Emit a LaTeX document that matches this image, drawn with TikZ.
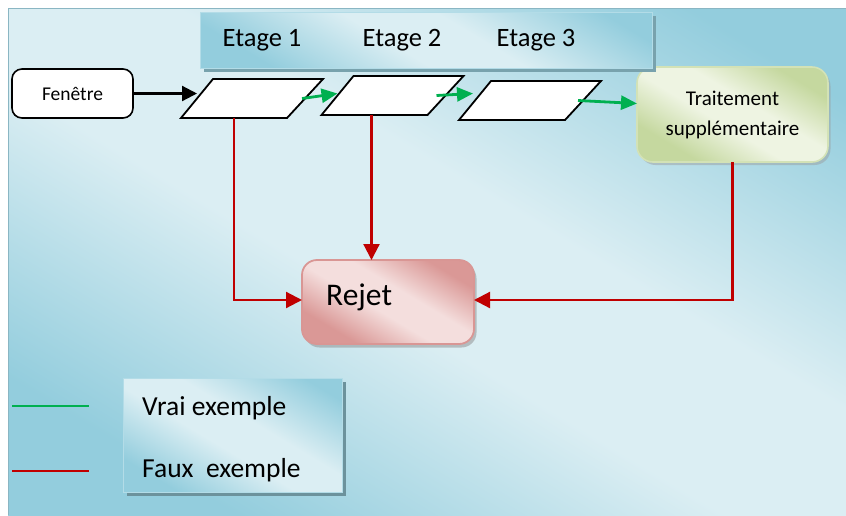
\documentclass[tikz,border=0pt]{standalone}
\usepackage{fontspec}
\setmainfont{Carlito}
\usetikzlibrary{arrows.meta,shadows,calc}

\definecolor{bgdark}{HTML}{93CDDD}
\definecolor{bglight}{HTML}{DBEEF3}
\definecolor{grdark}{HTML}{C5D89F}
\definecolor{grlight}{HTML}{EEF4E2}
\definecolor{grline}{HTML}{D3E2B6}
\definecolor{pkdark}{HTML}{DA9896}
\definecolor{pklight}{HTML}{F4DEDD}
\definecolor{pkline}{HTML}{D99694}
\definecolor{okgreen}{HTML}{00B050}
\definecolor{kored}{HTML}{C00000}
\definecolor{tealshadow}{HTML}{78A2AD}

% diagonal fills: a light band between two darker corners
\pgfdeclareverticalshading{bgshade}{100bp}{color(0bp)=(bgdark); color(25bp)=(bgdark);
  color(45bp)=(bglight); color(57bp)=(bglight); color(78bp)=(bgdark); color(100bp)=(bgdark)}
\pgfdeclareverticalshading{grshade}{100bp}{color(0bp)=(grdark); color(28bp)=(grdark);
  color(45bp)=(grlight); color(57bp)=(grlight); color(74bp)=(grdark); color(100bp)=(grdark)}
\pgfdeclareverticalshading{pkshade}{100bp}{color(0bp)=(pkdark); color(28bp)=(pkdark);
  color(45bp)=(pklight); color(57bp)=(pklight); color(74bp)=(pkdark); color(100bp)=(pkdark)}

\tikzset{
  diag/.style={shade, shading=#1, shading angle=-31},
  box/.style={inner sep=0pt, outer sep=0pt},
  blueband/.style={box, diag=bgshade, draw=bgdark!70, line width=0.6pt,
    drop shadow={shadow xshift=3.5pt, shadow yshift=-4pt, fill=tealshadow, opacity=1}},
  startbox/.style={box, draw=black, fill=white, line width=1.6pt, rounded corners=10pt,
    font=\fontsize{19.5}{22}\selectfont},
  stageshape/.style={draw=black, fill=white, line width=1.8pt, line join=miter},
  greenbox/.style={box, diag=grshade, draw=grline, line width=1.6pt,
    rounded corners=16pt, align=center, font=\fontsize{21}{30}\selectfont,
    drop shadow={shadow xshift=2.5pt, shadow yshift=-3pt, fill=black!40, opacity=.45}},
  pinkbox/.style={box, diag=pkshade, draw=pkline, line width=1.8pt,
    rounded corners=15pt,
    drop shadow={shadow xshift=2.5pt, shadow yshift=-3.5pt, fill=black!45, opacity=.5}},
  label/.style={inner sep=0pt, font=\fontsize{26.5}{30}\selectfont},
  blkarrow/.style={draw=black, line width=2.2pt, -{Triangle[length=15pt,width=15pt]}},
  grnarrow/.style={draw=okgreen, line width=2.8pt, -{Triangle[length=16pt,width=14pt]}},
  redarrow/.style={draw=kored, line width=2.2pt, -{Triangle[length=16pt,width=16pt]}},
  grnline/.style={draw=okgreen, line width=2pt},
  redline/.style={draw=kored, line width=2pt},
}

% a slanted stage window centred on (#2,#3), with named side points
\newcommand\stagewindow[3]{%
  \coordinate (#1) at (#2,#3);
  \coordinate (#1-bl) at ($(#1)+(-71,19.5)$);
  \coordinate (#1-br) at ($(#1)+(35,19.5)$);
  \coordinate (#1-tr) at ($(#1)+(71,-19.5)$);
  \coordinate (#1-tl) at ($(#1)+(-39,-19.5)$);
  \coordinate (#1-left) at ($(#1)+(-55,0)$);
  \coordinate (#1-right) at ($(#1)+(53,0)$);
  \coordinate (#1-bottom) at ($(#1)+(-18,19.5)$);
  \draw[stageshape] (#1-bl) -- (#1-br) -- (#1-tr) -- (#1-tl) -- cycle;
}

\begin{document}
\begin{tikzpicture}[x=1pt,y=-1pt]
\useasboundingbox (0,0) rectangle (846,515);

% background panel
\fill[white] (0,0) rectangle (846,515);
\path[diag=bgshade] (8,8) rectangle (846,515);
\draw[bgdark!85!black!90, line width=0.8pt] (8,515) -- (8,8) -- (846,8);

% boxes
\node[greenbox, minimum width=191pt, minimum height=95pt] (trait) at (732.5,114.5)
  {Traitement\\supplémentaire};
\node[blueband, minimum width=452pt, minimum height=56pt] (band) at (426,40) {};
\node[label] (e1) at (262,40) {Etage 1};
\node[label] (e2) at (402,40) {Etage 2};
\node[label] (e3) at (536,40) {Etage 3};

\node[startbox, minimum width=121pt, minimum height=49pt] (fen) at (72.5,93.5) {Fenêtre};

\stagewindow{p1}{252}{98.5}
\stagewindow{p2}{392.5}{95.5}
\stagewindow{p3}{530}{100.5}

\node[pinkbox, minimum width=172pt, minimum height=84pt] (rejet) at (388,302) {};
\node[label, anchor=west, font=\fontsize{31.5}{34}\selectfont] (rtxt) at (326,297) {Rejet};

% legend
\node[blueband, minimum width=219pt, minimum height=114pt,
  drop shadow={shadow xshift=4pt, shadow yshift=-4pt, fill=tealshadow!90!black, opacity=1}]
  (legend) at (232.5,435) {};
\node[label, anchor=west, font=\fontsize{27.5}{30}\selectfont] (vrai) at (142,408) {Vrai exemple};
\node[label, anchor=west, font=\fontsize{27.5}{30}\selectfont] (faux) at (142,470) {Faux~ exemple};
\coordinate (gA) at (12,406);
\coordinate (gB) at (89,406);
\coordinate (rA) at (12,471);
\coordinate (rB) at (89,471);
\draw[grnline] (gA) -- (gB);
\draw[redline] (rA) -- (rB);

% flow of accepted windows
\draw[blkarrow] (fen.east) -- (fen.east -| p1-left);
\draw[grnarrow] ([xshift=-3pt]p1-right) -- ([yshift=2pt]p2-left);
\draw[grnarrow] ([xshift=-9pt]p2-right) -- ([xshift=-2pt,yshift=7pt]p3-left);
\draw[grnarrow] ([xshift=-5pt]p3-right) -- ([yshift=11pt]trait.west);

% rejected windows
\draw[redarrow] (p1-bottom) |- ([yshift=2pt]rejet.west);
\draw[redarrow] ([xshift=-3pt]p2-bottom) -- ([xshift=-3pt]p2-bottom |- rejet.north);
\draw[redarrow] (trait.south) |- ([yshift=2pt]rejet.east);
\end{tikzpicture}
\end{document}
